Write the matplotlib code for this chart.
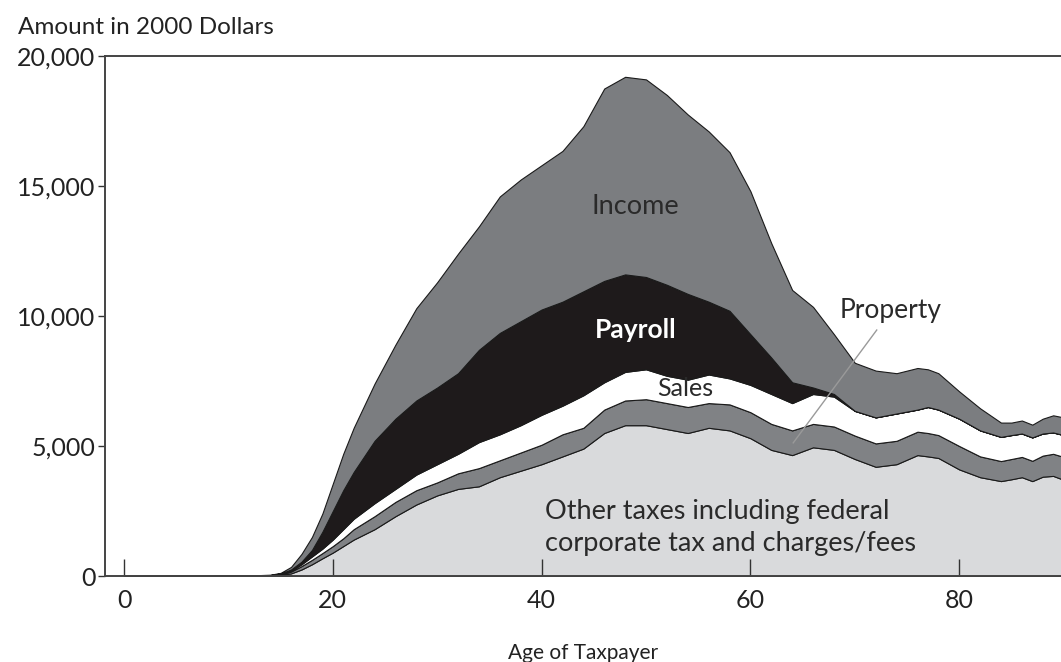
import matplotlib
matplotlib.use("Agg")
import matplotlib.pyplot as plt
import numpy as np

# Ages (x) and cumulative boundaries (2000 dollars)
ages = [0, 12, 14, 15, 16, 17, 18, 19, 20, 21, 22, 24, 26, 28, 30, 32, 34, 36, 38, 40,
        42, 44, 46, 48, 50, 52, 54, 56, 58, 60, 62, 64, 66, 68, 70, 72, 74, 76, 77, 78,
        80, 82, 84, 85, 86, 87, 88, 89, 90]

# top of each layer (cumulative)
other_top = [0, 5, 15, 40, 100, 250, 450, 680, 900, 1150, 1400, 1800, 2300, 2750, 3100,
             3350, 3450, 3800, 4050, 4300, 4600, 4900, 5500, 5800, 5800, 5650, 5500, 5700,
             5600, 5300, 4850, 4650, 4950, 4850, 4500, 4200, 4300, 4650, 4600, 4540, 4100,
             3800, 3650, 3720, 3800, 3650, 3820, 3850, 3700]
property_top = [0, 8, 20, 60, 170, 380, 620, 880, 1150, 1450, 1800, 2300, 2850, 3300,
                3600, 3950, 4150, 4450, 4750, 5050, 5450, 5700, 6400, 6750, 6800, 6650,
                6500, 6650, 6600, 6300, 5850, 5600, 5850, 5750, 5400, 5100, 5200, 5550,
                5500, 5420, 5000, 4600, 4420, 4500, 4580, 4430, 4630, 4700, 4580]
sales_top = [0, 10, 25, 75, 200, 450, 750, 1050, 1400, 1800, 2200, 2800, 3350, 3900, 4300,
             4700, 5150, 5450, 5800, 6200, 6550, 6950, 7450, 7850, 7950, 7700, 7550, 7750,
             7600, 7350, 7000, 6650, 7000, 6900, 6350, 6100, 6250, 6400, 6500, 6400, 6050,
             5600, 5350, 5420, 5480, 5330, 5480, 5520, 5420]
payroll_top = [0, 15, 35, 100, 250, 550, 1000, 1700, 2500, 3300, 4000, 5200, 6050, 6750,
               7250, 7800, 8700, 9350, 9800, 10250, 10550, 10950, 11350, 11600, 11500,
               11200, 10850, 10550, 10200, 9300, 8400, 7450, 7250, 7000, 6350, 6100, 6250,
               6400, 6500, 6400, 6050, 5600, 5350, 5420, 5480, 5330, 5480, 5520, 5420]
income_top = [0, 20, 50, 120, 350, 850, 1500, 2400, 3550, 4700, 5700, 7400, 8900, 10300,
              11300, 12400, 13450, 14600, 15250, 15800, 16350, 17300, 18750, 19200, 19100,
              18500, 17750, 17100, 16300, 14800, 12800, 11000, 10350, 9300, 8200, 7900,
              7800, 8000, 7950, 7800, 7100, 6450, 5900, 5900, 5980, 5820, 6050, 6180, 6100]

x = np.array(ages)
other = np.array(other_top)
prop = np.array(property_top) - np.array(other_top)
sales = np.array(sales_top) - np.array(property_top)
payroll = np.array(payroll_top) - np.array(sales_top)
income = np.array(income_top) - np.array(payroll_top)

plt.rcParams['font.family'] = ['Lato', 'DejaVu Sans']

fig = plt.figure(figsize=(10.61, 6.62), dpi=100)
ax = fig.add_axes([105/1061, 86/662, 1 - 105/1061, (576-56)/662])

colors = ['#d9dadc', '#808285', '#ffffff', '#1e1a1b', '#7b7d80']
ax.stackplot(x, other, prop, sales, payroll, income, colors=colors,
             edgecolor='#1a1a1a', linewidth=0.8)

ax.set_xlim(-1.82, 89.75)
ax.set_ylim(0, 20000)

ax.set_xticks([0, 20, 40, 60, 80])
ax.set_yticks([0, 5000, 10000, 15000, 20000])
ax.set_yticklabels(['0', '5,000', '10,000', '15,000', '20,000'])
ax.tick_params(axis='x', direction='in', length=12, width=1, color='#333333',
               labelsize=18, pad=9, labelcolor='#222222')
ax.tick_params(axis='y', direction='out', length=5, width=1, color='#333333',
               labelsize=18, pad=2, labelcolor='#222222')

ax.spines['right'].set_visible(False)
for s in ['top', 'left', 'bottom']:
    ax.spines[s].set_color('#444444')
    ax.spines[s].set_linewidth(1.4)

ax.set_xlabel('Age of Taxpayer', fontsize=15, color='#222222', labelpad=23)
fig.text(18/1061, 1 - 27/662, 'Amount in 2000 Dollars', fontsize=17.5,
         color='#222222', va='center', ha='left')

# Layer labels
ax.text(49, 14200, 'Income', fontsize=19.5, color='#2a2a2a', ha='center', va='center')
ax.text(49, 9460, 'Payroll', fontsize=19, color='white', fontweight='bold',
        ha='center', va='center')
ax.text(53.8, 7230, 'Sales', fontsize=18, color='#2a2a2a', ha='center', va='center')
ax.text(73.4, 10230, 'Property', fontsize=19, color='#2a2a2a', ha='center', va='center')
ax.plot([72.1, 64.1], [9460, 5120], color='#9a9a9a', linewidth=1)
ax.text(40.3, 1870, 'Other taxes including federal\ncorporate tax and charges/fees',
        fontsize=19.5, color='#2a2a2a', ha='left', va='center', linespacing=1.35)

fig.savefig('out.png', dpi=100)
